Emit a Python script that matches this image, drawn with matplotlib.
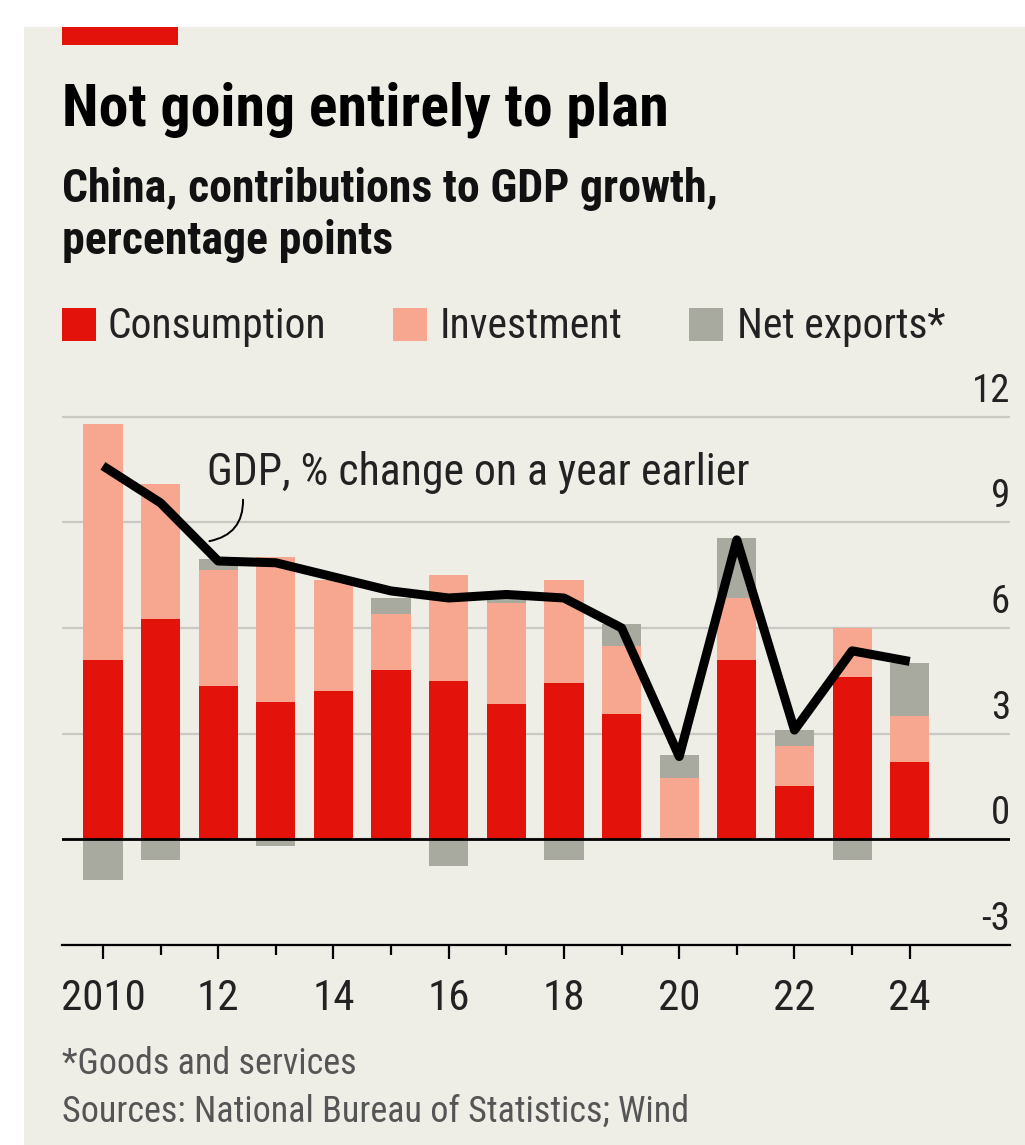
import matplotlib.pyplot as plt
import matplotlib.font_manager as fm
from matplotlib.patches import Rectangle
import numpy as np

# data (percentage points)
years = list(range(2010, 2025))
consumption = [5.1, 6.25, 4.35, 3.9, 4.2, 4.8, 4.5, 3.85, 4.45, 3.55, 0.0, 5.1, 1.5, 4.6, 2.2]
investment = [6.7, 3.85, 3.3, 4.1, 3.15, 1.6, 3.0, 2.85, 2.9, 1.95, 1.75, 1.75, 1.15, 1.4, 1.3]
net_exports = [-1.15, -0.6, 0.3, -0.2, 0.0, 0.45, -0.75, 0.2, -0.6, 0.6, 0.65, 1.7, 0.45, -0.6, 1.5]
gdp = [10.6, 9.55, 7.9, 7.85, 7.45, 7.05, 6.85, 6.95, 6.85, 6.0, 2.35, 8.5, 3.1, 5.35, 5.05]

yticks = [-3, 0, 3, 6, 9, 12]
xtick_years = list(range(2010, 2025, 2))
xtick_labels = ["2010", "12", "14", "16", "18", "20", "22", "24"]
legend_labels = ["Consumption", "Investment", "Net exports*"]

RED = "#E3120B"
SALMON = "#F7A78F"
GREY = "#A8AAA0"
BG = "#EEEDE6"
GRID = "#C9C8C2"

names = {f.name for f in fm.fontManager.ttflist}
FONT = "Roboto"
for cand in ["Roboto Condensed", "Liberation Sans Narrow", "Roboto"]:
    if cand in names:
        FONT = cand
        break
plt.rcParams["font.family"] = [FONT, "DejaVu Sans"]

W, H = 1025, 1145
fig = plt.figure(figsize=(W / 100, H / 100), dpi=100, facecolor="white")


def fx(px):
    return px / W


def fy(py):
    return 1 - py / H


# beige panel and red flag
fig.patches.append(Rectangle((fx(24), 0), 1 - fx(24), fy(27), transform=fig.transFigure,
                             facecolor=BG, edgecolor="none", zorder=-10))
fig.patches.append(Rectangle((fx(62), fy(45)), fx(178) - fx(62), fy(27) - fy(45),
                             transform=fig.transFigure, facecolor=RED, edgecolor="none"))

fig.text(fx(62), fy(125), "Not going entirely to plan", fontsize=43, fontweight="bold",
         va="baseline", ha="left", color="black")
fig.text(fx(62), fy(202), "China, contributions to GDP growth,", fontsize=33,
         fontweight="bold", va="baseline", ha="left", color="#111111")
fig.text(fx(62), fy(254), "percentage points", fontsize=33, fontweight="bold",
         va="baseline", ha="left", color="#111111")

# legend
leg_sq = [62, 393, 689]
leg_txt = [107, 440, 737]
for sq, tx, lab, col in zip(leg_sq, leg_txt, legend_labels, [RED, SALMON, GREY]):
    fig.patches.append(Rectangle((fx(sq), fy(341)), fx(34), 33 / H, transform=fig.transFigure,
                                 facecolor=col, edgecolor="none"))
    fig.text(fx(tx), fy(338), lab, fontsize=30, va="baseline", ha="left", color="#222222")

# chart
ax = fig.add_axes([fx(62), fy(945), fx(1010) - fx(62), fy(406) - fy(945)])
ax.set_facecolor("none")
ax.set_xlim(2009.29, 2025.74)
ax.set_ylim(-3, 12.3)

x = np.array(years)
cons = np.array(consumption)
inv = np.array(investment)
nx = np.array(net_exports)
bw = 0.68
ax.bar(x, cons, bw, color=RED, zorder=2)
ax.bar(x, inv, bw, bottom=cons, color=SALMON, zorder=2)
ax.bar(x, nx, bw, bottom=np.where(nx >= 0, cons + inv, 0), color=GREY, zorder=2)

ax.axhline(0, color="black", lw=2, zorder=3)
ax.plot(x, gdp, color="black", lw=6.5, solid_joinstyle="round", solid_capstyle="butt", zorder=4)

ax.set_yticks(yticks)
ax.yaxis.grid(True, color=GRID, lw=1.6, zorder=0)
ax.tick_params(axis="y", length=0, labelleft=False)
for v in yticks:
    ax.annotate(str(v), xy=(1, v), xycoords=("axes fraction", "data"), xytext=(0, 5),
                textcoords="offset points", ha="right", va="bottom", fontsize=28,
                color="#222222")

for s in ["top", "left", "right"]:
    ax.spines[s].set_visible(False)
ax.spines["bottom"].set_color("black")
ax.spines["bottom"].set_linewidth(1.6)

ax.set_xticks(xtick_years)
ax.set_xticklabels(xtick_labels, fontsize=31, color="#222222")
ax.set_xticks(years, minor=True)
ax.tick_params(axis="x", which="major", length=10, width=1.6, pad=14)
ax.tick_params(axis="x", which="minor", length=7, width=1.6)

# annotation for the GDP line
ax.text(2011.81, 10.05, "GDP, % change on a year earlier", fontsize=31.5, ha="left",
        va="baseline", color="#222222")
ax.annotate("", xy=(2011.8, 8.45), xytext=(2012.43, 9.72),
            arrowprops=dict(arrowstyle="-", color="black", lw=1.4,
                            connectionstyle="arc3,rad=-0.45"))

fig.text(fx(62), fy(1074), "*Goods and services", fontsize=26, va="baseline", ha="left",
         color="#555555")
fig.text(fx(62), fy(1122), "Sources: National Bureau of Statistics; Wind", fontsize=26,
         va="baseline", ha="left", color="#555555")

fig.savefig("out.png", dpi=100, facecolor=fig.get_facecolor())
